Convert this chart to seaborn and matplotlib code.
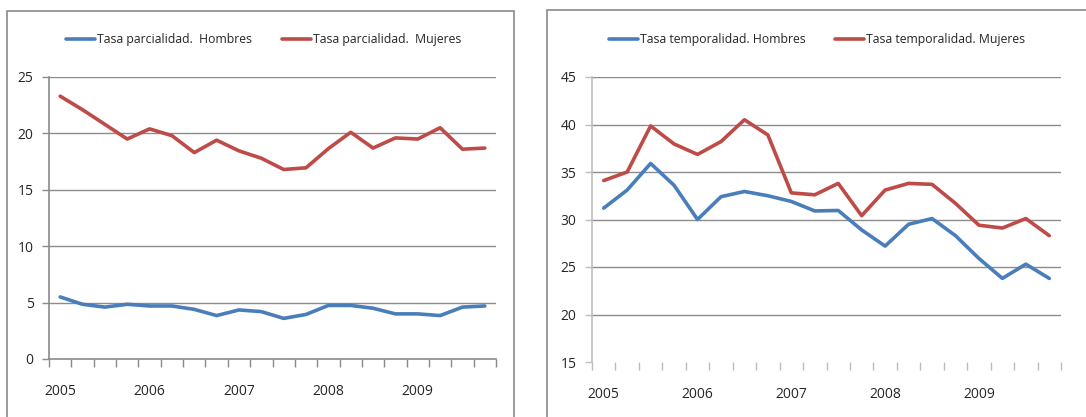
import numpy as np
import pandas as pd
import matplotlib
matplotlib.use("Agg")
import matplotlib.pyplot as plt
from matplotlib.patches import Rectangle
from matplotlib.ticker import FixedLocator
import seaborn as sns

# ---- data: 20 trimestres 2005T1 - 2009T4 ----
years = ["2005", "2006", "2007", "2008", "2009"]
quarters = list(range(20))

parc_hombres = [5.5, 4.85, 4.6, 4.85, 4.7, 4.7, 4.4, 3.85, 4.35, 4.2,
                3.6, 3.95, 4.75, 4.75, 4.5, 4.0, 4.0, 3.85, 4.6, 4.7]
parc_mujeres = [23.3, 22.1, 20.8, 19.5, 20.4, 19.8, 18.3, 19.4, 18.45, 17.8,
                16.8, 16.95, 18.65, 20.1, 18.7, 19.6, 19.5, 20.5, 18.6, 18.7]

temp_hombres = [31.2, 33.1, 35.9, 33.6, 30.0, 32.4, 32.95, 32.5, 31.9, 30.9,
                30.95, 28.9, 27.2, 29.5, 30.1, 28.3, 25.9, 23.8, 25.3, 23.8]
temp_mujeres = [34.1, 35.0, 39.85, 37.95, 36.85, 38.2, 40.5, 38.9, 32.8, 32.6,
                33.8, 30.4, 33.1, 33.8, 33.7, 31.7, 29.4, 29.1, 30.1, 28.3]

BLUE = "#4a7ebb"
RED = "#be4b48"

sns.set_style("white")
plt.rcParams["font.family"] = ["Open Sans", "DejaVu Sans"]


def long_df(h, m, lab_h, lab_m):
    return pd.DataFrame({
        "q": quarters * 2,
        "valor": h + m,
        "serie": [lab_h] * len(h) + [lab_m] * len(m),
    })


def draw_panel(ax, df, labels, ylim, yticks, spine_col, bottom_spine):
    sns.lineplot(data=df, x="q", y="valor", hue="serie", hue_order=labels,
                 palette=[BLUE, RED], linewidth=2.6, ax=ax)
    ax.set_xlim(-0.5, 19.5)
    ax.set_ylim(*ylim)
    ax.set_yticks(yticks)
    ax.set_xticks([0, 4, 8, 12, 16])
    ax.set_xticklabels(years)
    ax.xaxis.set_minor_locator(FixedLocator(np.arange(-0.5, 20, 1)))
    ax.tick_params(axis="x", which="both", bottom=True)
    ax.tick_params(axis="y", left=True)
    ax.tick_params(axis="x", which="major", length=0, pad=18, labelsize=10)
    ax.tick_params(axis="x", which="minor", length=6, width=1,
                   color=spine_col, direction="out")
    ax.tick_params(axis="y", length=5, width=1, color=spine_col,
                   direction="out", pad=6, labelsize=10)
    ax.yaxis.grid(True, color="#8c8c8c", linewidth=1)
    # no gridline on the lowest value
    ax.get_ygridlines()[0].set_visible(False)
    ax.set_axisbelow(True)
    ax.set_xlabel("")
    ax.set_ylabel("")
    for s in ("top", "right"):
        ax.spines[s].set_visible(False)
    ax.spines["left"].set_color(spine_col)
    ax.spines["left"].set_linewidth(1.2)
    ax.spines["bottom"].set_visible(bottom_spine)
    ax.spines["bottom"].set_color(spine_col)
    ax.spines["bottom"].set_linewidth(1.2)
    ax.legend(loc="lower center", bbox_to_anchor=(0.48, 1.07), ncol=2,
              frameon=False, fontsize=8.8, handlelength=2.4,
              handletextpad=0.15, columnspacing=2.4)


fig = plt.figure(figsize=(10.86, 4.17), dpi=100)

# chart area borders
fig.patches.append(Rectangle((7 / 1086, -0.1), 507 / 1086, 1.1 - 11 / 417,
                             transform=fig.transFigure, fill=False,
                             edgecolor="#8a8a8a", linewidth=1.2))
fig.patches.append(Rectangle((547 / 1086, -0.1), 0.6, 1.1 - 10 / 417,
                             transform=fig.transFigure, fill=False,
                             edgecolor="#8a8a8a", linewidth=1.2))

ax1 = fig.add_axes([49 / 1086, 58 / 417, 447 / 1086, 282 / 417])
ax2 = fig.add_axes([592 / 1086, 55 / 417, 469 / 1086, 285 / 417])

lab1 = ["Tasa parcialidad.  Hombres", "Tasa parcialidad.  Mujeres"]
lab2 = ["Tasa temporalidad. Hombres", "Tasa temporalidad. Mujeres"]

draw_panel(ax1, long_df(parc_hombres, parc_mujeres, *lab1), lab1,
           (0, 25), [0, 5, 10, 15, 20, 25], "#8a8a8a", True)
draw_panel(ax2, long_df(temp_hombres, temp_mujeres, *lab2), lab2,
           (15, 45), [15, 20, 25, 30, 35, 40, 45], "#bdbdbd", False)

fig.savefig("out.png", dpi=100)
